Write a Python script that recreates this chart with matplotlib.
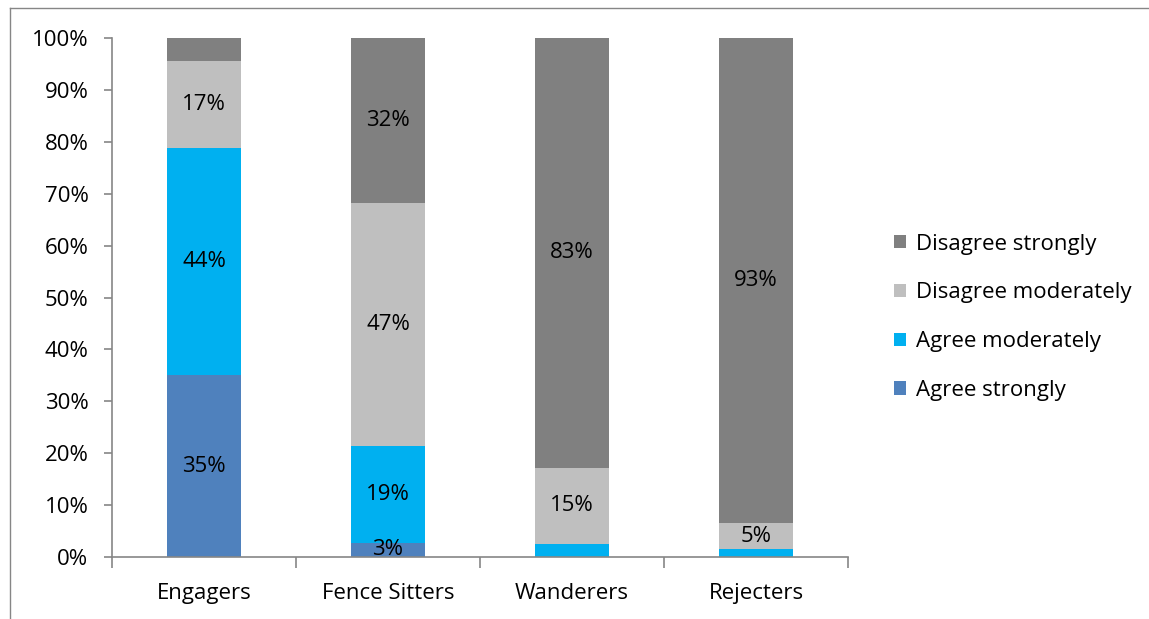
import matplotlib.pyplot as plt
from matplotlib.lines import Line2D

plt.rcParams['font.family'] = ['Open Sans', 'DejaVu Sans']

groups = ["Engagers", "Fence Sitters", "Wanderers", "Rejecters"]
series = ["Agree strongly", "Agree moderately", "Disagree moderately", "Disagree strongly"]
colors = ["#4F81BD", "#00B0F0", "#BFBFBF", "#808080"]

agree_strongly = [35.0, 2.7, 0.0, 0.0]
agree_moderately = [43.8, 18.6, 2.6, 1.5]
disagree_moderately = [16.8, 47.0, 14.6, 5.0]
disagree_strongly = [4.4, 31.7, 82.8, 93.5]

# labels shown on the bars (blank = no label)
lbl_as = ["35%", "3%", "", ""]
lbl_am = ["44%", "19%", "", ""]
lbl_dm = ["17%", "47%", "15%", "5%"]
lbl_ds = ["", "32%", "83%", "93%"]

values = [agree_strongly, agree_moderately, disagree_moderately, disagree_strongly]
labels = [lbl_as, lbl_am, lbl_dm, lbl_ds]

FS = 16

fig = plt.figure(figsize=(11.49, 6.19), dpi=100)
ax = fig.add_axes([112/1149, 1 - 557/619, (848 - 112)/1149, (557 - 38)/619])

x = list(range(len(groups)))
bottom = [0.0] * len(groups)
handles = []
for vals, lbls, name, col in zip(values, labels, series, colors):
    bars = ax.bar(x, vals, 0.4, bottom=bottom, color=col, label=name, zorder=2)
    for i, b in enumerate(bars):
        if lbls[i]:
            ax.text(b.get_x() + b.get_width()/2, bottom[i] + vals[i]/2, lbls[i],
                    ha='center', va='center', fontsize=FS, color='black', zorder=3)
    bottom = [bb + v for bb, v in zip(bottom, vals)]
    handles.append(bars)

ax.set_xlim(-0.5, 3.5)
ax.set_ylim(0, 100)
ax.set_yticks(range(0, 101, 10))
ax.set_yticklabels([f"{v}%" for v in range(0, 101, 10)], fontsize=FS)
ax.set_xticks(x)
ax.set_xticklabels(groups, fontsize=FS)
ax.set_xticks([-0.5, 0.5, 1.5, 2.5, 3.5], minor=True)
ax.tick_params(axis='x', which='major', length=0, pad=19)
ax.tick_params(axis='x', which='minor', length=8, color='#868686', width=1.2)
ax.tick_params(axis='y', length=6, color='#868686', width=1.2, pad=11)

for s in ['top', 'right']:
    ax.spines[s].set_visible(False)
for s in ['left', 'bottom']:
    ax.spines[s].set_color('#868686')
    ax.spines[s].set_linewidth(1.2)

leg = ax.legend(handles[::-1], series[::-1], loc='center left', bbox_to_anchor=(1.035, 0.462),
                frameon=False, fontsize=FS, handlelength=0.55, handleheight=0.55,
                handletextpad=0.45, labelspacing=1.25)

# outer chart frame (top and left edges)
fig.add_artist(Line2D([10/1149, 1], [1 - 8/619, 1 - 8/619], color='#868686', lw=1))
fig.add_artist(Line2D([10/1149, 10/1149], [0, 1 - 8/619], color='#868686', lw=1))

fig.savefig("out.png", dpi=100)
